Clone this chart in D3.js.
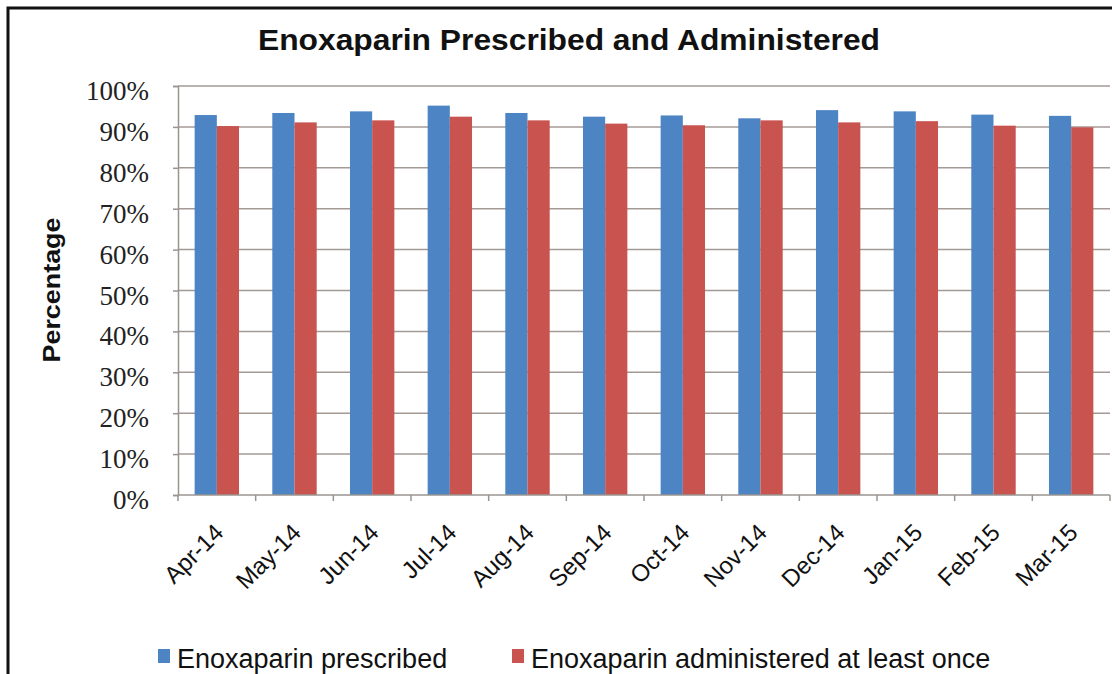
<!DOCTYPE html>
<html>
<head>
<meta charset="utf-8">
<script src="https://cdn.jsdelivr.net/npm/d3@7"></script>
<style>
  html, body { margin: 0; padding: 0; background: #ffffff; }
  svg { display: block; }
</style>
</head>
<body>
<svg id="chart" width="1112" height="674"></svg>
<script>
// Monthly categories and the two series (percent of patients)
const months = ["Apr-14", "May-14", "Jun-14", "Jul-14", "Aug-14", "Sep-14",
                "Oct-14", "Nov-14", "Dec-14", "Jan-15", "Feb-15", "Mar-15"];
const prescribed = [92.9, 93.4, 93.8, 95.2, 93.4, 92.5, 92.8, 92.1, 94.1, 93.8, 93.0, 92.7];
const administered = [90.2, 91.1, 91.6, 92.5, 91.6, 90.8, 90.4, 91.6, 91.1, 91.4, 90.3, 89.9];
const seriesNames = ["Enoxaparin prescribed", "Enoxaparin administered at least once"];
const seriesColors = ["#4C84C4", "#C9534F"];
const yTicks = [0, 10, 20, 30, 40, 50, 60, 70, 80, 90, 100];

const svg = d3.select("#chart");

// Outer frame of the chart area
svg.append("rect")
  .attr("x", 8).attr("y", 8)
  .attr("width", 1300).attr("height", 900)
  .attr("fill", "#ffffff")
  .attr("stroke", "#111111")
  .attr("stroke-width", 3);

const plot = { left: 178, right: 1110, top: 86, bottom: 495 };

const x = d3.scaleBand().domain(months).range([plot.left, plot.right]).paddingInner(0).paddingOuter(0);
const xSub = d3.scaleBand().domain(seriesNames).range([0, x.bandwidth()]).paddingInner(0).paddingOuter(0.75);
const y = d3.scaleLinear().domain([0, 100]).range([plot.bottom, plot.top]);

// Horizontal gridlines
svg.append("g")
  .selectAll("line")
  .data(yTicks.filter(d => d > 0))
  .join("line")
  .attr("x1", plot.left).attr("x2", plot.right)
  .attr("y1", d => y(d)).attr("y2", d => y(d))
  .attr("stroke", "#a49a94")
  .attr("stroke-width", 1.5);

// Bars
const rows = months.map((m, i) => ({ month: m, values: [prescribed[i], administered[i]] }));
const groups = svg.append("g")
  .selectAll("g")
  .data(rows)
  .join("g")
  .attr("transform", d => `translate(${x(d.month)},0)`);

groups.selectAll("rect")
  .data(d => d.values.map((v, k) => ({ name: seriesNames[k], value: v, k })))
  .join("rect")
  .attr("x", d => xSub(d.name))
  .attr("width", xSub.bandwidth())
  .attr("y", d => y(d.value))
  .attr("height", d => y(0) - y(d.value))
  .attr("fill", d => seriesColors[d.k]);

// Y axis
const yAxis = d3.axisLeft(y)
  .tickValues(yTicks)
  .tickFormat(d => d + "%")
  .tickSize(5)
  .tickPadding(24);
const gy = svg.append("g")
  .attr("transform", `translate(${plot.left},0)`)
  .call(yAxis);
gy.select(".domain").attr("stroke", "#9a9490").attr("stroke-width", 1.5);
gy.selectAll(".tick line").attr("stroke", "#9a9490").attr("stroke-width", 1.5);
gy.selectAll(".tick text")
  .attr("font-family", "'Liberation Serif', serif")
  .attr("font-size", 27)
  .attr("fill", "#222222")
  .attr("dy", "0.5em");

// X axis with ticks on category boundaries
const gx = svg.append("g")
  .attr("transform", `translate(0,${plot.bottom})`);
gx.append("line")
  .attr("x1", plot.left).attr("x2", plot.right)
  .attr("stroke", "#9a9490").attr("stroke-width", 1.5);
gx.selectAll("line.tk")
  .data(months.concat(["end"]))
  .join("line")
  .attr("class", "tk")
  .attr("x1", (d, i) => plot.left + i * x.step())
  .attr("x2", (d, i) => plot.left + i * x.step())
  .attr("y1", 0).attr("y2", 6)
  .attr("stroke", "#9a9490").attr("stroke-width", 1.5);
gx.selectAll("text")
  .data(months)
  .join("text")
  .attr("transform", d => `translate(${x(d) + x.bandwidth() / 2 + 8},${39}) rotate(-45)`)
  .attr("text-anchor", "end")
  .attr("font-family", "'Liberation Sans', Arial, sans-serif")
  .attr("font-size", 24)
  .attr("fill", "#111111")
  .text(d => d);

// Title
svg.append("text")
  .attr("x", 569).attr("y", 50)
  .attr("text-anchor", "middle")
  .attr("font-family", "'Liberation Sans', Arial, sans-serif")
  .attr("font-weight", "bold")
  .attr("font-size", 29)
  .attr("textLength", 622)
  .attr("lengthAdjust", "spacingAndGlyphs")
  .attr("fill", "#111111")
  .text("Enoxaparin Prescribed and Administered");

// Y axis title
svg.append("text")
  .attr("transform", "translate(60,290) rotate(-90)")
  .attr("text-anchor", "middle")
  .attr("font-family", "'Liberation Sans', Arial, sans-serif")
  .attr("font-weight", "bold")
  .attr("font-size", 24)
  .attr("textLength", 145)
  .attr("lengthAdjust", "spacingAndGlyphs")
  .attr("fill", "#111111")
  .text("Percentage");

// Legend
const legendX = [158, 512];
const legend = svg.append("g")
  .selectAll("g")
  .data(seriesNames)
  .join("g")
  .attr("transform", (d, i) => `translate(${legendX[i]},0)`);
legend.append("rect")
  .attr("x", 0).attr("y", 649)
  .attr("width", 12).attr("height", 14)
  .attr("fill", (d, i) => seriesColors[i]);
legend.append("text")
  .attr("x", 19).attr("y", 668)
  .attr("font-family", "'Liberation Sans', Arial, sans-serif")
  .attr("font-size", 27)
  .attr("fill", "#111111")
  .text(d => d);
</script>
</body>
</html>
